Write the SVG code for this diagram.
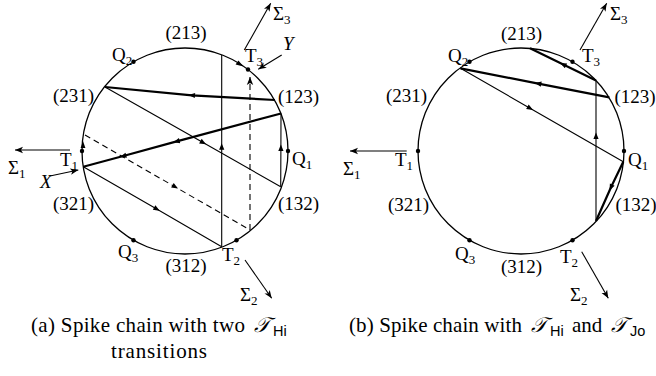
<svg xmlns="http://www.w3.org/2000/svg" width="656" height="376" viewBox="0 0 656 376">
<style>
.circ{fill:none;stroke:#000;stroke-width:1.3}
.thin{fill:none;stroke:#000;stroke-width:1.1}
.thick{fill:none;stroke:#000;stroke-width:2.2}
.dash{fill:none;stroke:#000;stroke-width:1.1;stroke-dasharray:6 4}
.mid{marker-mid:url(#mid)}
.end{marker-end:url(#ah)}
.dot{fill:#000}
text{font-family:"Liberation Serif","Times New Roman",serif;font-size:19px;fill:#000}
.sub{font-size:13px}
.it{font-style:italic}
.cap{font-size:21px}
.cal{font-family:"DejaVu Sans","Noto Sans",serif;font-style:italic;font-size:21px}
.sf{font-family:"Liberation Sans",Arial,sans-serif;font-size:14.5px}
</style>
<defs>
<marker id="ah" viewBox="-9 -4 10 8" refX="0" refY="0" markerWidth="10" markerHeight="8" markerUnits="userSpaceOnUse" orient="auto">
<path d="M0,0 L-8,-3.2 L-6,0 L-8,3.2 z" fill="#000"/>
</marker>
<marker id="mid" viewBox="-4 -3 8 6" refX="0" refY="0" markerWidth="8" markerHeight="6" markerUnits="userSpaceOnUse" orient="auto">
<path d="M3.5,0 L-3,-2.6 L-3,2.6 z" fill="#000"/>
</marker>
</defs>

<!-- Left diagram -->
<g id="circle-a"><circle class="circ" cx="185" cy="151" r="103"/></g>
<g id="connectors-a">
<path class="thick mid" d="M275,100 L192,95.3 L105,87"/>
<path class="thin mid" d="M105,87 L203,142.6 L280.7,186.7"/>
<path class="thick mid" d="M281,113.5 L176.7,141.4 L123.3,156 L83.3,166.7"/>
<path class="thin mid" d="M83.3,166.7 L156.7,209.1 L221.7,246.7"/>
<path class="thin mid" d="M221.7,246.7 L221.7,146.7 L221.7,55"/>
<path class="dash mid" d="M85,135 L175,186.8 L250,230"/>
<path class="dash end" d="M250,230 L250,77"/>
<path class="thin mid" d="M280.7,186.7 L280.9,148 L281,113.5"/>
<path class="thin end" d="M70,150 L15,150"/>
<path class="thin end" d="M245,260 L271.7,298.3"/>
<path class="thin end" d="M244.3,50 L270.7,3.3"/>
<path class="thin end" d="M50,176 L78.3,170"/>
<path class="thin end" d="M281.7,55 L258.3,69.3"/>
<path d="M83,141 L80.6,148 L85.4,148 z" class="dot"/>
<path d="M243.5,66.5 L235.6,64.4 L238.4,60.4 z" class="dot"/>
</g>
<g id="a-T1"><circle class="dot" cx="82" cy="151" r="2.2"/><text x="60" y="166">T<tspan class="sub" dy="4">1</tspan></text></g>
<g id="a-Q1"><circle class="dot" cx="288" cy="151" r="2.2"/><text x="292" y="165">Q<tspan class="sub" dy="4">1</tspan></text></g>
<g id="a-Q2"><circle class="dot" cx="133.5" cy="61.8" r="2.2"/><text x="112" y="61">Q<tspan class="sub" dy="4">2</tspan></text></g>
<g id="a-Q3"><circle class="dot" cx="133.5" cy="240.2" r="2.2"/><text x="118" y="258">Q<tspan class="sub" dy="4">3</tspan></text></g>
<g id="a-T2"><circle class="dot" cx="236.5" cy="240.2" r="2.2"/><text x="222" y="261">T<tspan class="sub" dy="4">2</tspan></text></g>
<g id="a-T3"><circle class="dot" cx="248" cy="69.5" r="2.2"/><text x="245" y="62">T<tspan class="sub" dy="4">3</tspan></text></g>
<g id="a-labels">
<text x="283" y="50" class="it">Y</text>
<text x="40" y="188" class="it">X</text>
<text x="273" y="20">Σ<tspan class="sub" dy="4">3</tspan></text>
<text x="8" y="174">Σ<tspan class="sub" dy="4">1</tspan></text>
<text x="240" y="301">Σ<tspan class="sub" dy="4">2</tspan></text>
<text x="186" y="39" text-anchor="middle">(213)</text>
<text x="73.5" y="101.5" text-anchor="middle">(231)</text>
<text x="298.5" y="103" text-anchor="middle">(123)</text>
<text x="73.5" y="210" text-anchor="middle">(321)</text>
<text x="298.5" y="210" text-anchor="middle">(132)</text>
<text x="186" y="271.5" text-anchor="middle">(312)</text>
</g>

<!-- Right diagram -->
<g id="circle-b"><circle class="circ" cx="521" cy="151" r="103"/></g>
<g id="connectors-b">
<path class="thick mid" d="M596,80.4 L563.3,64.5 L530,48.3"/>
<path class="thick mid" d="M609.3,97.3 L538.3,83.6 L460.5,68.3"/>
<path class="thin mid" d="M460.5,68.3 L530,108.2 L623.3,161.7"/>
<path class="thick mid" d="M623.3,161.7 L611,187.3 L596,221"/>
<path class="thin mid" d="M596,221 L596,136 L596,80.4"/>
<path class="thin end" d="M406.7,151 L350,151"/>
<path class="thin end" d="M581.7,251.7 L608.3,298.3"/>
<path class="thin end" d="M580,50 L606.7,3.3"/>
</g>
<g id="b-T1"><circle class="dot" cx="418" cy="151" r="2.2"/><text x="395" y="166">T<tspan class="sub" dy="4">1</tspan></text></g>
<g id="b-Q1"><circle class="dot" cx="624" cy="151" r="2.2"/><text x="628" y="166">Q<tspan class="sub" dy="4">1</tspan></text></g>
<g id="b-Q2"><circle class="dot" cx="469.5" cy="61.8" r="2.2"/><text x="448" y="62">Q<tspan class="sub" dy="4">2</tspan></text></g>
<g id="b-Q3"><circle class="dot" cx="469.5" cy="240.2" r="2.2"/><text x="455" y="260">Q<tspan class="sub" dy="4">3</tspan></text></g>
<g id="b-T2"><circle class="dot" cx="572.5" cy="240.2" r="2.2"/><text x="560" y="263">T<tspan class="sub" dy="4">2</tspan></text></g>
<g id="b-T3"><circle class="dot" cx="572.5" cy="61.8" r="2.2"/><text x="582" y="62">T<tspan class="sub" dy="4">3</tspan></text></g>
<g id="b-labels">
<text x="610" y="20">Σ<tspan class="sub" dy="4">3</tspan></text>
<text x="343" y="175">Σ<tspan class="sub" dy="4">1</tspan></text>
<text x="570" y="301">Σ<tspan class="sub" dy="4">2</tspan></text>
<text x="521.5" y="40" text-anchor="middle">(213)</text>
<text x="406.5" y="102" text-anchor="middle">(231)</text>
<text x="635" y="103" text-anchor="middle">(123)</text>
<text x="408.5" y="211" text-anchor="middle">(321)</text>
<text x="636" y="211" text-anchor="middle">(132)</text>
<text x="521.5" y="273" text-anchor="middle">(312)</text>
</g>

<!-- Captions -->
<g id="captions">
<text class="cap" y="332"><tspan x="31" textLength="214" lengthAdjust="spacing">(a) Spike chain with two</tspan><tspan class="cal" x="254">𝒯</tspan><tspan class="sf" x="273" dy="4">Hi</tspan></text>
<text class="cap" x="111" y="358" textLength="96" lengthAdjust="spacing">transitions</text>
<text class="cap" y="332"><tspan x="349" textLength="173" lengthAdjust="spacing">(b) Spike chain with</tspan><tspan class="cal" x="531">𝒯</tspan><tspan class="sf" x="550" dy="4">Hi</tspan><tspan x="572" dy="-4">and</tspan><tspan class="cal" x="611">𝒯</tspan><tspan class="sf" x="630" dy="4">Jo</tspan></text>
</g>
</svg>
